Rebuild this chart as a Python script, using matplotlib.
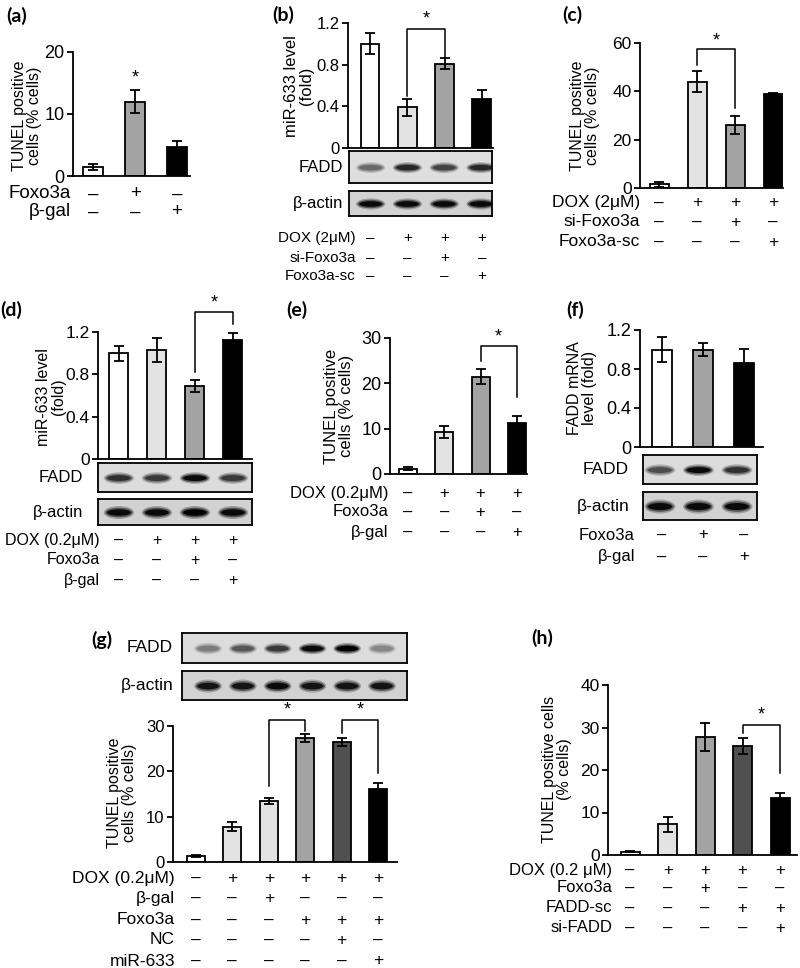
import numpy as np
import matplotlib
matplotlib.use("Agg")
import matplotlib.pyplot as plt
from matplotlib.patches import Ellipse
from matplotlib.transforms import blended_transform_factory

# ---- data ----
a_vals = [1.5, 12.0, 4.7]
a_errs = [0.5, 1.8, 0.9]
a_rows = [("Foxo3a", "-+-"), ("β-gal", "--+")]

b_vals = [1.0, 0.39, 0.81, 0.47]
b_errs = [0.10, 0.08, 0.05, 0.09]
b_fadd = [0.45, 0.80, 0.65, 0.80]
b_actin = [0.95, 0.95, 0.95, 0.95]
b_rows = [("DOX (2μM)", "-+++"), ("si-Foxo3a", "--+-"), ("Foxo3a-sc", "---+")]

c_vals = [1.5, 44.0, 26.0, 39.0]
c_errs = [1.0, 4.3, 3.7, 0.4]
c_rows = [("DOX (2μM)", "-+++"), ("si-Foxo3a", "--+-"), ("Foxo3a-sc", "---+")]

d_vals = [1.0, 1.03, 0.69, 1.12]
d_errs = [0.07, 0.11, 0.06, 0.07]
d_fadd = [0.75, 0.70, 0.95, 0.70]
d_actin = [0.95, 0.95, 1.0, 0.95]
d_rows = [("DOX (0.2μM)", "-+++"), ("Foxo3a", "--+-"), ("β-gal", "---+")]

e_vals = [1.2, 9.2, 21.5, 11.3]
e_errs = [0.4, 1.3, 1.7, 1.4]
e_rows = [("DOX (0.2μM)", "-+++"), ("Foxo3a", "--+-"), ("β-gal", "---+")]

f_vals = [1.0, 1.0, 0.86]
f_errs = [0.13, 0.07, 0.15]
f_fadd = [0.60, 0.95, 0.75]
f_actin = [0.95, 0.95, 0.95]
f_rows = [("Foxo3a", "-+-"), ("β-gal", "--+")]

g_vals = [1.3, 7.8, 13.5, 27.3, 26.5, 16.2]
g_errs = [0.2, 1.0, 0.6, 0.9, 0.9, 1.2]
g_fadd = [0.35, 0.55, 0.70, 0.95, 1.0, 0.30]
g_actin = [0.9, 0.9, 0.95, 0.9, 0.9, 0.9]
g_rows = [("DOX (0.2μM)", "-+++++"), ("β-gal", "--+---"), ("Foxo3a", "---+++"),
          ("NC", "----+-"), ("miR-633", "-----+")]

h_vals = [0.8, 7.2, 27.8, 25.7, 13.3]
h_errs = [0.2, 1.7, 3.3, 1.9, 1.3]
h_rows = [("DOX (0.2 μM)", "-++++"), ("Foxo3a", "--+--"), ("FADD-sc", "---++"),
          ("si-FADD", "----+")]

W, H = 800, 968
plt.rcParams['font.family'] = ['Liberation Sans', 'DejaVu Sans']
fig = plt.figure(figsize=(W / 100, H / 100), dpi=100)

WHITE, LIGHT, MID, DARK, BLACK = "white", "#e3e3e3", "#a3a3a3", "#505050", "black"


def fbox(x0, y0, x1, y1):
    return [x0 / W, 1 - y1 / H, (x1 - x0) / W, (y1 - y0) / H]


def fy(y):
    return 1 - y / H


def bar_panel(px, py, xlim, ymax, ystep, vals, errs, colors, fs, bw=0.5):
    ax = fig.add_axes(fbox(px[0], py[0], px[1], py[1]))
    x = np.arange(len(vals))
    ax.bar(x, vals, width=bw, color=colors, edgecolor="black", linewidth=1.3, zorder=2)
    ax.errorbar(x, vals, yerr=errs, fmt="none", ecolor="black", elinewidth=1.3,
                capsize=3.5, capthick=1.3, zorder=3)
    ax.set_xlim(*xlim)
    ax.set_ylim(0, ymax)
    ticks = np.arange(0, ymax + ystep / 2, ystep)
    ax.set_yticks(ticks)
    ax.set_yticklabels(["0" if t == 0 else "%g" % t for t in ticks], fontsize=fs)
    ax.set_xticks([])
    for s in ("top", "right"):
        ax.spines[s].set_visible(False)
    for s in ("left", "bottom"):
        ax.spines[s].set_linewidth(1.3)
    ax.tick_params(axis="y", length=4, width=1.3, pad=2)
    ax.patch.set_alpha(0)
    return ax


def bracket(ax, i, j, yl, yt, yr, ystar):
    ax.plot([i, i, j, j], [yl, yt, yt, yr], color="black", lw=1.1, clip_on=False)
    ax.text((i + j) / 2, ystar, "*", ha="center", va="center", fontsize=13, clip_on=False)


def ylab(text, cx, cy, fs):
    fig.text(cx / W, fy(cy), text, rotation=90, ha="center", va="center",
             multialignment="center", fontsize=fs, linespacing=1.0)


def treat_rows(ax, rows, ys, xr, fs):
    tr = blended_transform_factory(ax.transData, fig.transFigure)
    for (lab, marks), y in zip(rows, ys):
        fig.text(xr / W, fy(y), lab, ha="right", va="center", fontsize=fs)
        for i, m in enumerate(marks):
            ax.text(i, fy(y), "+" if m == "+" else "–", transform=tr, ha="center",
                    va="center", fontsize=fs, clip_on=False)


def blot(px, py, xlim, dark, label, lx, bg, fs, bw=0.8, bh=0.34):
    ax = fig.add_axes(fbox(px[0], py[0], px[1], py[1]))
    ax.set_facecolor(bg)
    ax.set_xlim(*xlim)
    ax.set_ylim(0, 1)
    ax.set_xticks([])
    ax.set_yticks([])
    for s in ax.spines.values():
        s.set_linewidth(1.3)
    for i, v in enumerate(dark):
        g = str(0.75 * (1 - v))
        for sw, sh, a in [(1.0, 1.0, 0.25), (0.9, 0.75, 0.5), (0.78, 0.5, 1.0)]:
            ax.add_patch(Ellipse((i, 0.48), bw * sw, bh * sh, color=g, alpha=a, lw=0))
    fig.text(lx / W, fy((py[0] + py[1]) / 2), label, ha="right", va="center", fontsize=fs)
    return ax


def plabel(t, x, y):
    fig.text(x / W, fy(y), t, ha="left", va="center", fontsize=14,
             fontweight="bold", family="Lato")


# (a)
plabel("(a)", 6, 16)
ax = bar_panel((73, 190), (52, 176), (-0.48, 2.31), 20, 10, a_vals, a_errs,
               [WHITE, MID, BLACK], 13, bw=0.48)
ax.text(1, 15.8, "*", ha="center", va="center", fontsize=13)
ylab("TUNEL positive\ncells (% cells)", 27, 116, 11.5)
treat_rows(ax, a_rows, [194, 212], 71, 13.5)

# (b)
plabel("(b)", 272, 15)
ax = bar_panel((348, 493), (23, 148), (-0.59, 3.3), 1.2, 0.4, b_vals, b_errs,
               [WHITE, LIGHT, MID, BLACK], 12)
bracket(ax, 1, 2, 0.5, 1.14, 0.86, 1.24)
ylab("miR-633 level\n(fold)", 299, 86, 12)
blot((349, 492), (151, 183), (-0.59, 3.3), b_fadd, "FADD", 343, "#dedede", 12)
blot((349, 492), (191, 216), (-0.59, 3.3), b_actin, "β-actin", 343, "#d2d2d2", 12, bh=0.45)
treat_rows(ax, b_rows, [238, 258, 276], 356, 11)

# (c)
plabel("(c)", 562, 15)
ax = bar_panel((640, 783), (43, 188), (-0.5, 3.26), 60, 20, c_vals, c_errs,
               [WHITE, LIGHT, MID, BLACK], 12.5)
bracket(ax, 1, 2, 51, 57.5, 33, 61)
ylab("TUNEL positive\ncells (% cells)", 585, 116, 11.5)
treat_rows(ax, c_rows, [203, 222, 242], 640, 12.5)

# (d)
plabel("(d)", 0, 310)
ax = bar_panel((98, 252), (332, 459), (-0.55, 3.5), 1.2, 0.4, d_vals, d_errs,
               [WHITE, LIGHT, MID, BLACK], 12.5)
bracket(ax, 2, 3, 0.82, 1.39, 1.28, 1.47)
ylab("miR-633 level\n(fold)", 51, 397, 11.5)
blot((98, 252), (463, 492), (-0.55, 3.5), d_fadd, "FADD", 83, "#dcdcdc", 12, bh=0.4)
blot((98, 252), (499, 525), (-0.55, 3.5), d_actin, "β-actin", 83, "#d2d2d2", 12, bh=0.5)
treat_rows(ax, d_rows, [540, 560, 580], 100, 11.5)

# (e)
plabel("(e)", 286, 310)
ax = bar_panel((390, 527), (338, 474), (-0.5, 3.28), 30, 10, e_vals, e_errs,
               [WHITE, LIGHT, MID, BLACK], 13)
bracket(ax, 2, 3, 25, 28.2, 17, 30.2)
ylab("TUNEL positive\ncells (% cells)", 339, 406, 12)
treat_rows(ax, e_rows, [493, 512, 532], 388, 12)

# (f)
plabel("(f)", 566, 310)
ax = bar_panel((640, 763), (330, 447), (-0.54, 2.46), 1.2, 0.4, f_vals, f_errs,
               [WHITE, MID, BLACK], 13)
ylab("FADD mRNA\nlevel (fold)", 582, 388, 11.5)
blot((643, 757), (455, 484), (-0.44, 2.52), f_fadd, "FADD", 629, "#dcdcdc", 12.5, bh=0.4)
blot((643, 757), (492, 520), (-0.44, 2.52), f_actin, "β-actin", 629, "#d2d2d2", 12.5, bh=0.5)
treat_rows(ax, f_rows, [535, 557], 635, 12)

# (g)
plabel("(g)", 91, 640)
blot((182, 407), (633, 663), (-0.75, 5.72), g_fadd, "FADD", 173, "#dcdcdc", 12.5, bh=0.38)
blot((182, 407), (671, 700), (-0.75, 5.72), g_actin, "β-actin", 173, "#d2d2d2", 12.5, bh=0.45)
ax = bar_panel((173, 397), (726, 862), (-0.63, 5.52), 30, 10, g_vals, g_errs,
               [WHITE, LIGHT, LIGHT, MID, DARK, BLACK], 12)
bracket(ax, 2, 3, 16.8, 31.3, 29, 33.5)
bracket(ax, 4, 5, 28.5, 31.3, 19.6, 33.5)
ylab("TUNEL positive\ncells (% cells)", 122, 793, 11.5)
treat_rows(ax, g_rows, [878, 898, 920, 940, 961], 175, 12.5)

# (h)
plabel("(h)", 531, 638)
ax = bar_panel((608, 797), (685, 855), (-0.59, 4.45), 40, 10, h_vals, h_errs,
               [WHITE, LIGHT, MID, DARK, BLACK], 12.5)
bracket(ax, 3, 4, 28.7, 30.6, 19.3, 33)
ylab("TUNEL positive cells\n(% cells)", 557, 769, 11.5)
treat_rows(ax, h_rows, [870, 888, 908, 928], 612, 12)

fig.savefig("out.png", dpi=100)
